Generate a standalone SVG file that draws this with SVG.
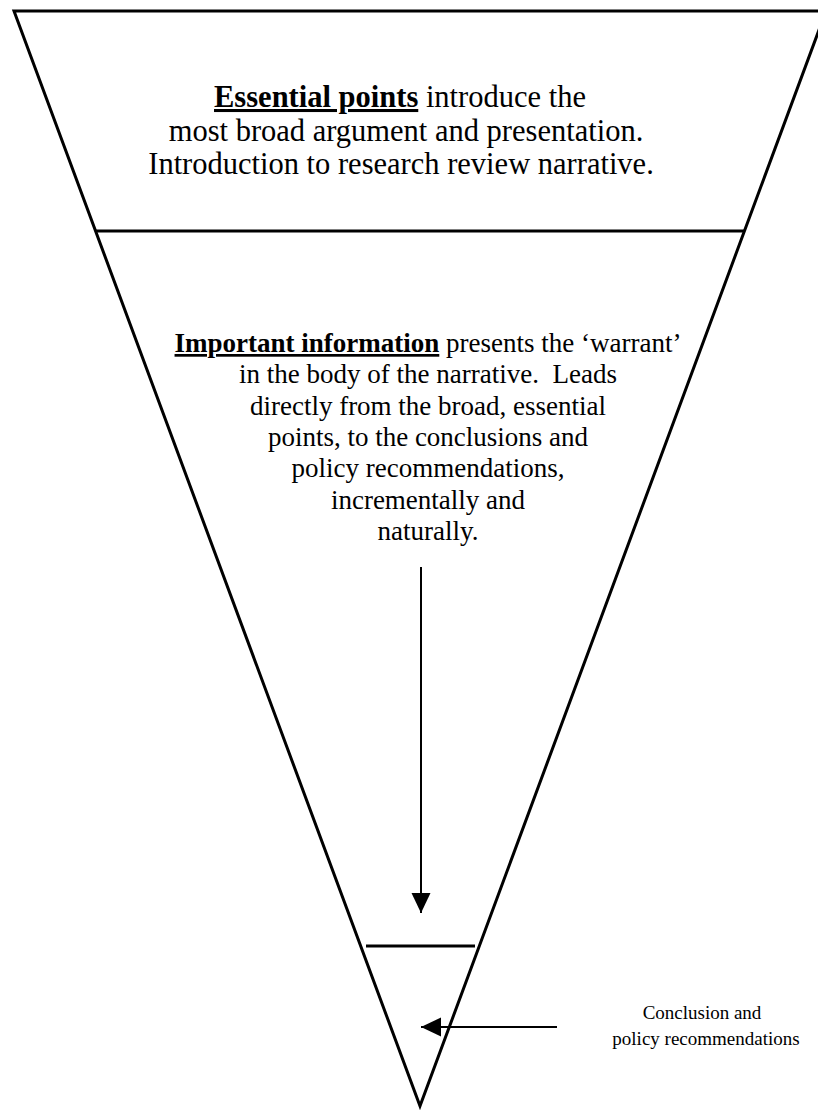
<svg xmlns="http://www.w3.org/2000/svg" width="818" height="1110" viewBox="0 0 818 1110">
  <style>
    .edge { fill: none; stroke: #000; stroke-width: 3; }
    .conn { fill: none; stroke: #000; stroke-width: 2; }
    .t { font-family: "Liberation Serif", "Times New Roman", serif; fill: #000; text-anchor: middle; white-space: pre; }
    .big { font-size: 30.5px; }
    .mid { font-size: 27px; }
    .small { font-size: 19px; }
    .b { font-weight: bold; text-decoration: underline; }
  </style>
  <defs>
    <marker id="arrow" markerUnits="userSpaceOnUse" markerWidth="20" markerHeight="20" viewBox="0 0 20 20" refX="20" refY="10" orient="auto">
      <path d="M0,0.5 L20,10 L0,19.5 Z" fill="#000"/>
    </marker>
  </defs>
  <rect width="818" height="1110" fill="#fff"/>
  <g id="funnel">
    <polygon class="edge" points="14,11 826,11 420,1106"/>
    <line class="edge" x1="95" y1="231" x2="745" y2="231"/>
    <line class="edge" x1="366" y1="946" x2="475" y2="946"/>
  </g>
  <g id="essential-points">
    <text class="t big" x="400" y="107"><tspan class="b">Essential points</tspan> introduce the</text>
    <text class="t big" x="406" y="141">most broad argument and presentation.</text>
    <text class="t big" x="401" y="174">Introduction to research review narrative.</text>
  </g>
  <g id="important-information">
    <text class="t mid" x="428" y="352"><tspan class="b">Important information</tspan> presents the ‘warrant’</text>
    <text class="t mid" x="428" y="383" xml:space="preserve">in the body of the narrative.  Leads</text>
    <text class="t mid" x="428" y="415">directly from the broad, essential</text>
    <text class="t mid" x="428" y="446">points, to the conclusions and</text>
    <text class="t mid" x="428" y="477">policy recommendations,</text>
    <text class="t mid" x="428" y="509">incrementally and</text>
    <text class="t mid" x="428" y="540">naturally.</text>
  </g>
  <g id="conclusion">
    <text class="t small" x="702" y="1019">Conclusion and</text>
    <text class="t small" x="706" y="1045">policy recommendations</text>
  </g>
  <g id="connectors">
    <line class="conn" x1="421" y1="567" x2="421" y2="913" marker-end="url(#arrow)"/>
    <line class="conn" x1="557" y1="1027" x2="421" y2="1027" marker-end="url(#arrow)"/>
  </g>
</svg>
